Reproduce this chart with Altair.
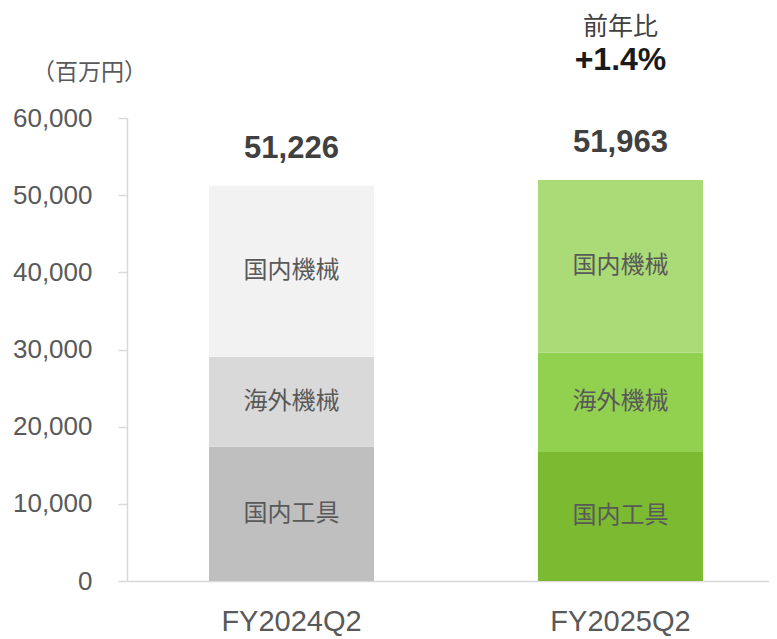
import altair as alt
import pandas as pd

# ---- data ----
periods = ["FY2024Q2", "FY2025Q2"]
segments = ["国内工具", "海外機械", "国内機械"]          # bottom -> top
values_fy2024 = [17400, 11650, 22176]
values_fy2025 = [16730, 12850, 22383]
totals = [51226, 51963]
total_labels = ["51,226", "51,963"]
colors_fy2024 = ["#BFBFBF", "#D9D9D9", "#F2F2F2"]
colors_fy2025 = ["#7BBA31", "#92D050", "#ABDB76"]
y_ticks = [0, 10000, 20000, 30000, 40000, 50000, 60000]
unit_label = "（百万円）"
yoy_title = "前年比"
yoy_value = "+1.4%"

# ---- table ----
rows = []
for p, vals, cols in [(periods[0], values_fy2024, colors_fy2024),
                      (periods[1], values_fy2025, colors_fy2025)]:
    cum = 0
    for s, v, c in zip(segments, vals, cols):
        rows.append({"period": p, "segment": s, "start": cum, "end": cum + v,
                     "mid": cum + v / 2, "key": p + s, "color": c})
        cum += v
df = pd.DataFrame(rows)
tot_df = pd.DataFrame({"period": periods, "total": totals, "label": total_labels})
yoy_df = pd.DataFrame({"period": [periods[1]], "t1": [yoy_title], "t2": [yoy_value]})

x_scale = alt.Scale(domain=periods, paddingInner=0.4985, paddingOuter=0.225, align=0.554)
y_scale = alt.Scale(domain=[0, 60000], nice=False, zero=True)

x_enc = alt.X("period:N", scale=x_scale, sort=periods,
              axis=alt.Axis(title=None, ticks=False, tickSize=0, labelAngle=0,
                            labelFont="Liberation Sans", labelFontSize=29,
                            labelColor="#595959", labelPadding=40,
                            labelBaseline="middle",
                            domainColor="#D9D9D9", domainWidth=1.5))

bars = alt.Chart(df).mark_bar().encode(
    x=x_enc,
    y=alt.Y("start:Q", scale=y_scale,
            axis=alt.Axis(values=y_ticks, format=",d", grid=False,
                          title=unit_label, titleAngle=0, titleX=-38, titleY=-46,
                          titleAlign="center", titleBaseline="middle",
                          titleFont="Noto Sans CJK JP", titleFontSize=23,
                          titleFontWeight="normal", titleColor="#595959",
                          labelFont="Liberation Sans", labelFontSize=26,
                          labelColor="#595959", labelPadding=26,
                          tickColor="#D9D9D9", tickSize=9, tickWidth=1.5,
                          domainColor="#D9D9D9", domainWidth=1.5)),
    y2="end:Q",
    color=alt.Color("key:N", scale=alt.Scale(domain=list(df["key"]), range=list(df["color"])),
                    legend=None),
)

seg_text = alt.Chart(df).mark_text(font="Noto Sans CJK JP", fontSize=24,
                                   color="#595959", baseline="middle").encode(
    x=alt.X("period:N", scale=x_scale, sort=periods),
    y=alt.Y("mid:Q", scale=y_scale),
    text="segment:N",
)

tot_text = alt.Chart(tot_df).mark_text(font="Liberation Sans", fontSize=31,
                                       fontWeight="bold", color="#404040",
                                       baseline="alphabetic", dy=-28).encode(
    x=alt.X("period:N", scale=x_scale, sort=periods),
    y=alt.Y("total:Q", scale=y_scale),
    text="label:N",
)

yoy1 = alt.Chart(yoy_df).mark_text(font="Noto Sans CJK JP", fontSize=25,
                                   color="#404040", baseline="middle").encode(
    x=alt.X("period:N", scale=x_scale, sort=periods),
    y=alt.value(-91),
    text="t1:N",
)
yoy2 = alt.Chart(yoy_df).mark_text(font="Liberation Sans", fontSize=32,
                                   fontWeight="bold", color="#1A1A1A",
                                   baseline="middle").encode(
    x=alt.X("period:N", scale=x_scale, sort=periods),
    y=alt.value(-58),
    text="t2:N",
)

chart = alt.layer(bars, seg_text, tot_text, yoy1, yoy2).properties(
    width=642, height=463,
    autosize=alt.AutoSizeParams(type="none"),
    padding={"left": 119, "top": 110, "right": 0, "bottom": 55},
).configure_view(stroke=None)

chart.save("out.html", embed_options={"renderer": "svg", "actions": False})
